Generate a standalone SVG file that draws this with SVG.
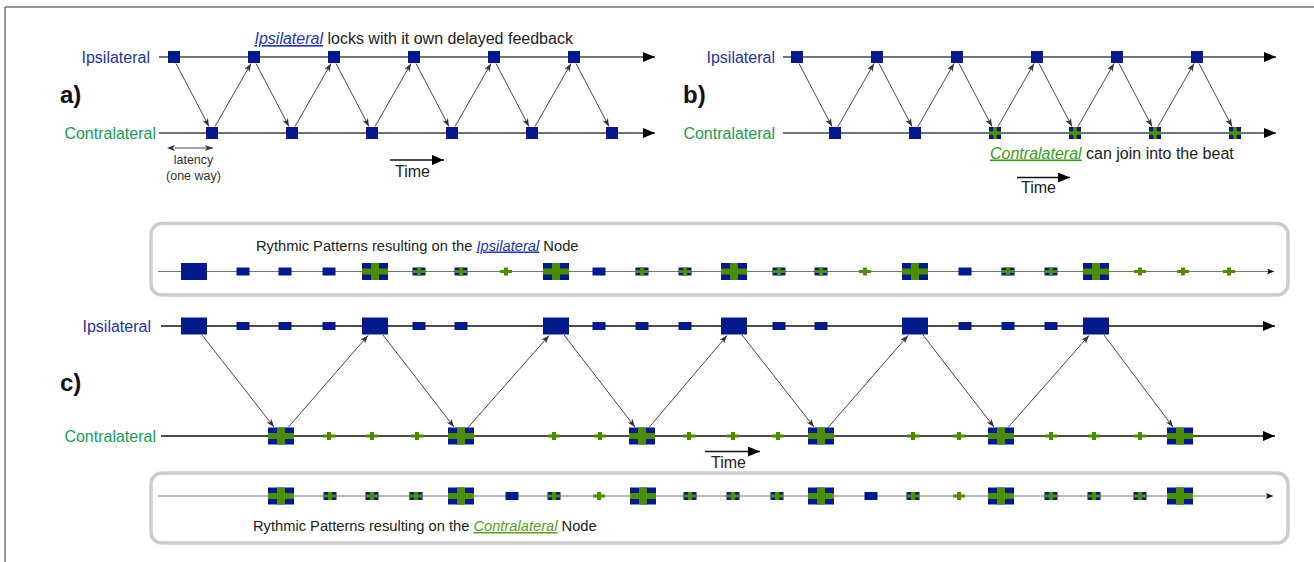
<svg xmlns="http://www.w3.org/2000/svg" width="1314" height="562" viewBox="0 0 1314 562">
<style>
text{font-family:"Liberation Sans",Arial,Helvetica,sans-serif;fill:#222}
.lbl{font-size:16px}
.ip{fill:#24339e}
.co{fill:#1c9a55}
.pn{font-size:24px;font-weight:bold;fill:#111}
.cap{font-size:16px}
.bx{font-size:14.7px}
.sm12{font-size:12.5px;fill:#333}
.axab{stroke:#444;stroke-width:1.6;fill:none}
.axc{stroke:#111;stroke-width:1.5;fill:none}
.cn{stroke:#333;stroke-width:0.9;fill:none;marker-end:url(#ah)}
.box{fill:#fff;stroke:#cccccc;stroke-width:3.5}
.bl{stroke:#777;stroke-width:1.2;fill:none}
</style>
<defs>
<marker id="ah" viewBox="0 0 8 6" refX="8" refY="3" markerWidth="8" markerHeight="6" orient="auto" markerUnits="userSpaceOnUse"><path d="M0,0 L8,3 L0,6 L2,3 z" fill="#333"/></marker>
<marker id="ahs" viewBox="0 0 8 6" refX="0" refY="3" markerWidth="8" markerHeight="6" orient="auto-start-reverse" markerUnits="userSpaceOnUse"><path d="M0,0 L8,3 L0,6 L2,3 z" fill="#333"/></marker>
<marker id="axa" viewBox="0 0 12 10" refX="12" refY="5" markerWidth="12" markerHeight="10" orient="auto" markerUnits="userSpaceOnUse"><path d="M0,0 L12,5 L0,10 z" fill="#000"/></marker>
<marker id="bxa" viewBox="0 0 7 6" refX="7" refY="3" markerWidth="7" markerHeight="6" orient="auto" markerUnits="userSpaceOnUse"><path d="M0,0 L7,3 L0,6 L1.5,3 z" fill="#111"/></marker>
<g id="sq"><rect x="-6" y="-6" width="12" height="12" fill="#031a8c"/></g>
<g id="sqp"><rect x="-6" y="-6" width="12" height="12" fill="#031a8c"/><rect x="-6" y="-1.8" width="12" height="3.6" fill="#4c8c00"/><rect x="-1.8" y="-6" width="3.6" height="12" fill="#4c8c00"/></g>
<g id="big"><rect x="-13" y="-8.5" width="26" height="17" fill="#031a8c"/></g>
<g id="bigp"><rect x="-13" y="-8.5" width="26" height="17" fill="#031a8c"/><rect x="-13" y="-3" width="26" height="6" fill="#4c8c00"/><rect x="-4" y="-8.5" width="8" height="17" fill="#4c8c00"/></g>
<g id="sm"><rect x="-6.5" y="-4" width="13" height="8" fill="#031a8c"/></g>
<g id="smp"><rect x="-6.5" y="-4" width="13" height="8" fill="#031a8c"/><rect x="-6.5" y="-1.5" width="13" height="3" fill="#4c8c00"/><rect x="-2" y="-4" width="4" height="8" fill="#4c8c00"/></g>
<g id="gp"><rect x="-6" y="-1.5" width="12" height="3" fill="#4c8c00"/><rect x="-2" y="-4" width="4" height="8" fill="#4c8c00"/></g>
</defs>
<rect width="1314" height="562" fill="#fff"/>
<path d="M5,562 V7 H1314" fill="none" stroke="#333" stroke-width="1"/>

<!-- boxes -->
<g id="box-ipsi">
<rect class="box" x="151" y="223.5" width="1137" height="71.5" rx="11"/>
<text class="bx" x="256" y="250.5">Rythmic Patterns resulting on the <tspan font-style="italic" text-decoration="underline" style="fill:#2434a8">Ipsilateral</tspan> Node</text>
</g>
<g id="box-contra">
<rect class="box" x="151" y="473" width="1137" height="70" rx="11"/>
<text class="bx" x="253" y="531">Rythmic Patterns resulting on the <tspan font-style="italic" text-decoration="underline" style="fill:#5a9b1a">Contralateral</tspan> Node</text>
</g>

<!-- axes and connectors -->
<g id="connectors">
<path class="axab" d="M159,57 H655" marker-end="url(#axa)"/>
<path class="axab" d="M159,133 H655" marker-end="url(#axa)"/>
<path class="axab" d="M783,57 H1276" marker-end="url(#axa)"/>
<path class="axab" d="M783,133 H1276" marker-end="url(#axa)"/>
<path class="axc" d="M161,326 H1275" marker-end="url(#axa)"/>
<path class="axc" d="M161,436 H1275" marker-end="url(#axa)"/>
<path class="bl" d="M158,271.5 H1274" marker-end="url(#bxa)"/>
<path class="bl" d="M158,496 H1273" marker-end="url(#bxa)"/>
<!-- time arrows -->
<path d="M390,160 H444" stroke="#111" stroke-width="1.5" marker-end="url(#axa)"/>
<path d="M1017,177.5 H1070" stroke="#111" stroke-width="1.5" marker-end="url(#axa)"/>
<path d="M705,451.5 H760" stroke="#111" stroke-width="1.5" marker-end="url(#axa)"/>
<!-- latency -->
<path d="M175,148 H213" stroke="#333" stroke-width="0.9" marker-start="url(#ahs)" marker-end="url(#ah)"/>
<!-- panel a -->
<path class="cn" d="M176,63.5 L209,126.5"/>
<path class="cn" d="M256,63.5 L289,126.5"/>
<path class="cn" d="M336,63.5 L369,126.5"/>
<path class="cn" d="M416,63.5 L449,126.5"/>
<path class="cn" d="M496,63.5 L529,126.5"/>
<path class="cn" d="M576,63.5 L609,126.5"/>
<path class="cn" d="M215,126.5 L251,63.5"/>
<path class="cn" d="M295,126.5 L331,63.5"/>
<path class="cn" d="M375,126.5 L411,63.5"/>
<path class="cn" d="M455,126.5 L491,63.5"/>
<path class="cn" d="M535,126.5 L571,63.5"/>
<!-- panel b -->
<path class="cn" d="M799,63.5 L832,126.5"/>
<path class="cn" d="M879,63.5 L912,126.5"/>
<path class="cn" d="M959,63.5 L992,126.5"/>
<path class="cn" d="M1039,63.5 L1072,126.5"/>
<path class="cn" d="M1119,63.5 L1152,126.5"/>
<path class="cn" d="M1199,63.5 L1232,126.5"/>
<path class="cn" d="M838,126.5 L874,63.5"/>
<path class="cn" d="M918,126.5 L954,63.5"/>
<path class="cn" d="M998,126.5 L1034,63.5"/>
<path class="cn" d="M1078,126.5 L1114,63.5"/>
<path class="cn" d="M1158,126.5 L1194,63.5"/>
<!-- panel c -->
<path class="cn" d="M202,335 L274,427"/>
<path class="cn" d="M383,335 L454,427"/>
<path class="cn" d="M564,335 L635,427"/>
<path class="cn" d="M742,335 L814,427"/>
<path class="cn" d="M923,335 L994,427"/>
<path class="cn" d="M1104,335 L1173,427"/>
<path class="cn" d="M288,427.5 L368,335.5"/>
<path class="cn" d="M468,427.5 L549,335.5"/>
<path class="cn" d="M649,427.5 L727,335.5"/>
<path class="cn" d="M828,427.5 L908,335.5"/>
<path class="cn" d="M1008,427.5 L1089,335.5"/>
</g>

<!-- labels -->
<g id="labels">
<text class="pn" x="60" y="103">a)</text>
<text class="pn" x="683" y="103">b)</text>
<text class="pn" x="60" y="391">c)</text>
<text class="lbl ip" x="150" y="62.5" text-anchor="end">Ipsilateral</text>
<text class="lbl co" x="156" y="138.5" text-anchor="end">Contralateral</text>
<text class="lbl ip" x="775" y="62.5" text-anchor="end">Ipsilateral</text>
<text class="lbl co" x="775" y="138.5" text-anchor="end">Contralateral</text>
<text class="lbl ip" x="151" y="331.5" text-anchor="end">Ipsilateral</text>
<text class="lbl co" x="156" y="441.5" text-anchor="end">Contralateral</text>
<text class="cap" x="254.5" y="44"><tspan font-style="italic" text-decoration="underline" style="fill:#2434a8">Ipsilateral</tspan> locks with it own delayed feedback</text>
<text class="cap" x="990" y="158.5"><tspan font-style="italic" text-decoration="underline" style="fill:#3b9a1c">Contralateral</tspan> can join into the beat</text>
<text class="sm12" x="193.5" y="164" text-anchor="middle">latency</text>
<text class="sm12" x="193.5" y="179.5" text-anchor="middle">(one way)</text>
<text class="cap" x="395" y="177">Time</text>
<text class="cap" x="1021" y="193">Time</text>
<text class="cap" x="711" y="468">Time</text>
</g>

<!-- panel a nodes -->
<g id="a-i1"><use href="#sq" x="174" y="57"/></g>
<g id="a-i2"><use href="#sq" x="254" y="57"/></g>
<g id="a-i3"><use href="#sq" x="334" y="57"/></g>
<g id="a-i4"><use href="#sq" x="414" y="57"/></g>
<g id="a-i5"><use href="#sq" x="494" y="57"/></g>
<g id="a-i6"><use href="#sq" x="574" y="57"/></g>
<g id="a-c1"><use href="#sq" x="212" y="133"/></g>
<g id="a-c2"><use href="#sq" x="292" y="133"/></g>
<g id="a-c3"><use href="#sq" x="372" y="133"/></g>
<g id="a-c4"><use href="#sq" x="452" y="133"/></g>
<g id="a-c5"><use href="#sq" x="532" y="133"/></g>
<g id="a-c6"><use href="#sq" x="612" y="133"/></g>
<!-- panel b nodes -->
<g id="b-i1"><use href="#sq" x="797" y="57"/></g>
<g id="b-i2"><use href="#sq" x="877" y="57"/></g>
<g id="b-i3"><use href="#sq" x="957" y="57"/></g>
<g id="b-i4"><use href="#sq" x="1037" y="57"/></g>
<g id="b-i5"><use href="#sq" x="1117" y="57"/></g>
<g id="b-i6"><use href="#sq" x="1197" y="57"/></g>
<g id="b-c1"><use href="#sq" x="835" y="133"/></g>
<g id="b-c2"><use href="#sq" x="915" y="133"/></g>
<g id="b-c3"><use href="#sqp" x="995" y="133"/></g>
<g id="b-c4"><use href="#sqp" x="1075" y="133"/></g>
<g id="b-c5"><use href="#sqp" x="1155" y="133"/></g>
<g id="b-c6"><use href="#sqp" x="1235" y="133"/></g>

<!-- ipsilateral pattern box -->
<g id="p1-01"><use href="#big" x="194" y="271.5"/></g>
<g id="p1-02"><use href="#sm" x="243" y="271.5"/></g>
<g id="p1-03"><use href="#sm" x="285" y="271.5"/></g>
<g id="p1-04"><use href="#sm" x="329" y="271.5"/></g>
<g id="p1-05"><use href="#bigp" x="375" y="271.5"/></g>
<g id="p1-06"><use href="#smp" x="419" y="271.5"/></g>
<g id="p1-07"><use href="#smp" x="461" y="271.5"/></g>
<g id="p1-08"><use href="#gp" x="506" y="271.5"/></g>
<g id="p1-09"><use href="#bigp" x="556" y="271.5"/></g>
<g id="p1-10"><use href="#sm" x="599" y="271.5"/></g>
<g id="p1-11"><use href="#smp" x="642" y="271.5"/></g>
<g id="p1-12"><use href="#smp" x="685" y="271.5"/></g>
<g id="p1-13"><use href="#bigp" x="734" y="271.5"/></g>
<g id="p1-14"><use href="#smp" x="779" y="271.5"/></g>
<g id="p1-15"><use href="#smp" x="821" y="271.5"/></g>
<g id="p1-16"><use href="#gp" x="865" y="271.5"/></g>
<g id="p1-17"><use href="#bigp" x="915" y="271.5"/></g>
<g id="p1-18"><use href="#sm" x="965" y="271.5"/></g>
<g id="p1-19"><use href="#smp" x="1008" y="271.5"/></g>
<g id="p1-20"><use href="#smp" x="1051" y="271.5"/></g>
<g id="p1-21"><use href="#bigp" x="1096" y="271.5"/></g>
<g id="p1-22"><use href="#gp" x="1140" y="271.5"/></g>
<g id="p1-23"><use href="#gp" x="1183" y="271.5"/></g>
<g id="p1-24"><use href="#gp" x="1229" y="271.5"/></g>

<!-- panel c ipsilateral -->
<g id="c-i01"><use href="#big" x="194" y="326"/></g>
<g id="c-i02"><use href="#sm" x="243" y="326"/></g>
<g id="c-i03"><use href="#sm" x="285" y="326"/></g>
<g id="c-i04"><use href="#sm" x="329" y="326"/></g>
<g id="c-i05"><use href="#big" x="375" y="326"/></g>
<g id="c-i06"><use href="#sm" x="419" y="326"/></g>
<g id="c-i07"><use href="#sm" x="461" y="326"/></g>
<g id="c-i08"><use href="#big" x="556" y="326"/></g>
<g id="c-i09"><use href="#sm" x="599" y="326"/></g>
<g id="c-i10"><use href="#sm" x="642" y="326"/></g>
<g id="c-i11"><use href="#sm" x="685" y="326"/></g>
<g id="c-i12"><use href="#big" x="734" y="326"/></g>
<g id="c-i13"><use href="#sm" x="779" y="326"/></g>
<g id="c-i14"><use href="#sm" x="821" y="326"/></g>
<g id="c-i15"><use href="#big" x="915" y="326"/></g>
<g id="c-i16"><use href="#sm" x="965" y="326"/></g>
<g id="c-i17"><use href="#sm" x="1008" y="326"/></g>
<g id="c-i18"><use href="#sm" x="1051" y="326"/></g>
<g id="c-i19"><use href="#big" x="1096" y="326"/></g>

<!-- panel c contralateral -->
<g id="c-c01"><use href="#bigp" x="281" y="436"/></g>
<g id="c-c02"><use href="#gp" x="329" y="436"/></g>
<g id="c-c03"><use href="#gp" x="372" y="436"/></g>
<g id="c-c04"><use href="#gp" x="417" y="436"/></g>
<g id="c-c05"><use href="#bigp" x="461" y="436"/></g>
<g id="c-c06"><use href="#gp" x="554" y="436"/></g>
<g id="c-c07"><use href="#gp" x="600" y="436"/></g>
<g id="c-c08"><use href="#bigp" x="642" y="436"/></g>
<g id="c-c09"><use href="#gp" x="689" y="436"/></g>
<g id="c-c10"><use href="#gp" x="733" y="436"/></g>
<g id="c-c11"><use href="#gp" x="778" y="436"/></g>
<g id="c-c12"><use href="#bigp" x="821" y="436"/></g>
<g id="c-c13"><use href="#gp" x="913" y="436"/></g>
<g id="c-c14"><use href="#gp" x="959" y="436"/></g>
<g id="c-c15"><use href="#bigp" x="1001" y="436"/></g>
<g id="c-c16"><use href="#gp" x="1051" y="436"/></g>
<g id="c-c17"><use href="#gp" x="1094" y="436"/></g>
<g id="c-c18"><use href="#gp" x="1140" y="436"/></g>
<g id="c-c19"><use href="#bigp" x="1180" y="436"/></g>

<!-- contralateral pattern box -->
<g id="p2-01"><use href="#bigp" x="281" y="496"/></g>
<g id="p2-02"><use href="#smp" x="330" y="496"/></g>
<g id="p2-03"><use href="#smp" x="372" y="496"/></g>
<g id="p2-04"><use href="#smp" x="416" y="496"/></g>
<g id="p2-05"><use href="#bigp" x="461" y="496"/></g>
<g id="p2-06"><use href="#sm" x="512" y="496"/></g>
<g id="p2-07"><use href="#smp" x="554" y="496"/></g>
<g id="p2-08"><use href="#gp" x="599" y="496"/></g>
<g id="p2-09"><use href="#bigp" x="643" y="496"/></g>
<g id="p2-10"><use href="#smp" x="690" y="496"/></g>
<g id="p2-11"><use href="#smp" x="733" y="496"/></g>
<g id="p2-12"><use href="#smp" x="777" y="496"/></g>
<g id="p2-13"><use href="#bigp" x="821" y="496"/></g>
<g id="p2-14"><use href="#sm" x="871" y="496"/></g>
<g id="p2-15"><use href="#smp" x="913" y="496"/></g>
<g id="p2-16"><use href="#gp" x="959" y="496"/></g>
<g id="p2-17"><use href="#bigp" x="1001" y="496"/></g>
<g id="p2-18"><use href="#smp" x="1051" y="496"/></g>
<g id="p2-19"><use href="#smp" x="1094" y="496"/></g>
<g id="p2-20"><use href="#smp" x="1140" y="496"/></g>
<g id="p2-21"><use href="#bigp" x="1180" y="496"/></g>
</svg>
